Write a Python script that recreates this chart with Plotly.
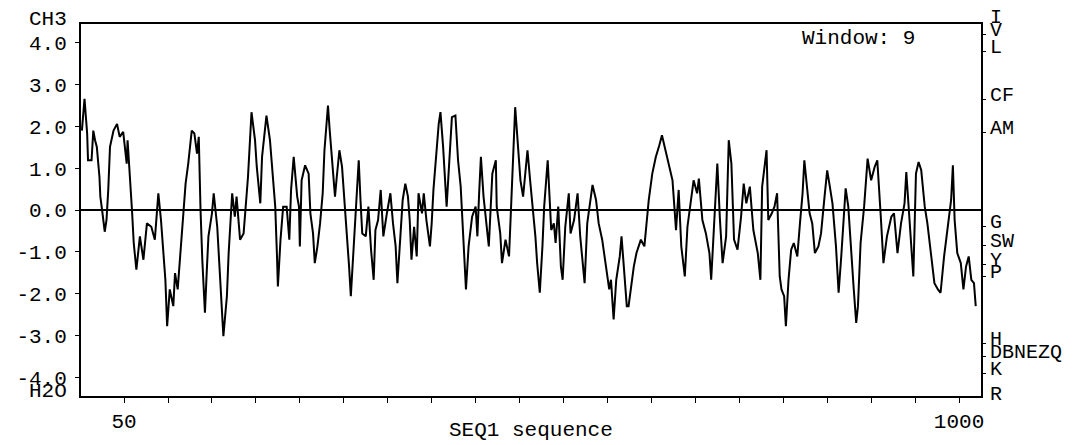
import plotly.graph_objects as go

# ---- data (residue number, hydropathy score) ----
res_a = [2,5,8,9,13,15,17,19,22,23, 25,28,30,32,34,38,42,45,49,53,
         54,57,59,61,62,64,68,72,76,81, 85,89,92,95,97,99,102,106,108,111,
         114,118,120,123,127,130,133,135,136,137, 139,142,144,146,150,152,156,159,163,167,
         169,173,176,178,182,186,188,191,195,199, 201,205,207,209,212,216,218,222,224,225,
         228,231,235,238,240,243,247,249,250,252, 256,260,262,265,267,270,273,276,278]
val_a = [1.90,2.66,1.83,1.19,1.19,1.90,1.67,1.51,0.79,0.32, 0.00,-0.52,-0.24,0.48,1.51,1.90,2.06,1.75,1.87,1.11,
         1.67,0.79,0.00,-0.79,-1.03,-1.43,-0.63,-1.19,-0.32,-0.40, -0.71,0.40,-0.24,-1.19,-1.67,-2.78,-1.90,-2.30,-1.51,-1.90,
         -1.03,-0.08,0.63,1.11,1.90,1.83,1.35,1.75,0.56,0.00, -1.19,-2.46,-1.51,-0.63,-0.08,0.40,-0.40,-1.67,-3.02,-2.06,
         -1.03,0.40,-0.16,0.32,-0.71,-0.56,-0.08,0.79,2.34,1.67, 1.03,0.16,1.27,1.67,2.26,1.67,1.11,0.08,-1.11,-1.83,
         -0.71,0.08,0.08,-0.71,0.48,1.27,0.32,0.08,-0.87,0.71, 1.07,0.87,-0.08,-0.56,-1.27,-0.87,-0.32,0.40,1.43]

res_b = [282,284,287,290,292,295,298,302,304,306, 308,310,312,314,317,319,321,325,328,331,
         334,336,339,342,345,349,353,356,359,361, 364,367,370,373,375,377,380,383,385,389,
         391,394,398,400,402,405,408,410,413,417, 419,423,427,430,433,435,438,439,442,446,
         450,452,454,456,459,465,469,473,474,478, 480,484,488,490,493,495,497,501,504,509,
         512,515,518,520,523,526,528,532,536,539, 541,544,547,549,552,556]
val_b = [2.50,1.90,1.11,0.32,0.79,1.43,1.03,-0.08,-0.71,-1.35, -2.06,-1.35,-0.56,0.16,1.19,0.24,-0.56,-0.63,0.08,-0.95,
         -1.67,-0.48,-0.24,0.48,-0.63,-0.08,0.40,-0.32,-0.87,-1.75, -0.71,0.24,0.63,0.32,-0.24,-1.19,-0.40,-1.11,0.40,-0.08,
         0.40,-0.24,-0.87,-0.32,0.48,1.35,2.06,2.34,1.51,0.08, 0.87,2.22,2.26,1.19,0.56,-0.24,-1.67,-1.90,-0.87,-0.16,
         0.08,-0.63,0.40,1.27,0.32,-0.87,0.87,1.19,0.08,-0.56, -1.27,-0.71,-1.11,0.08,1.43,2.46,1.90,0.71,0.32,1.43,
         0.71,0.08,-0.63,-1.27,-1.98,-0.87,0.08,1.19,-0.48,-0.32, -0.79,0.08,-1.35,-1.67,-0.40,0.40]

res_c = [558,562,566,569,571,574,577,581,583,587, 590,594,598,602,604,607,610,614,616,619,
         622,624,627,630,633,638,642,645,647,651, 655,659,662,666,670,674,678,681,684,688,
         691,695,698,702,704,708,712,716,718,721, 725,728,731,735,738,741,744,748,752,755,
         758,762,766,771,774,776,781,783,787,790, 793,796]
val_c = [-0.56,-0.24,0.40,-0.63,-1.11,-1.75,-0.32,0.32,0.60,0.24, -0.32,-0.71,-1.35,-1.90,-1.67,-2.62,-1.67,-1.11,-0.63,-1.51,
         -2.30,-2.30,-1.75,-1.35,-1.03,-0.71,-0.87,-0.24,0.24,0.87, 1.27,1.55,1.79,1.43,1.03,0.71,-0.48,0.48,-0.87,-1.59,
         -0.40,0.24,0.71,0.40,0.75,-0.24,-0.56,-1.03,-1.67,-0.48, 1.11,-0.24,-1.27,-0.63,1.67,1.11,-0.71,-0.95,-0.16,0.63,
         0.16,0.56,-0.48,-1.03,-1.67,0.56,1.43,-0.24,-0.08,0.08, 0.40,-1.59]

res_d = [798,801,803,806,809,812,816,819,822,824, 827,830,833,836,840,843,847,850,853,856,
         860,863,866,869,871,874,877,880,883,885, 888,892,896,900,904,907,911,914,918,923,
         926,930,934,938,940,942,945,948,951,954, 957,961,964,968,972,976,979,983,987,991,
         993,995,998,1002,1005,1008,1011,1014,1017,1019]
val_d = [-1.90,-2.06,-2.78,-1.67,-0.95,-0.79,-1.11,-0.32,0.40,1.19, 0.48,-0.08,-0.32,-1.03,-0.87,-0.56,0.32,0.95,0.56,0.16,
         -0.87,-1.98,-1.11,-0.16,0.52,0.08,-1.03,-1.83,-2.70,-2.30, -0.79,0.08,1.23,0.71,1.03,1.19,-0.16,-1.27,-0.63,-0.16,
         -0.08,-1.03,-0.32,0.16,0.91,0.24,-0.71,-1.59,0.87,1.15, 0.95,0.08,-0.32,-1.11,-1.75,-1.90,-1.98,-1.11,-0.48,0.24,
         1.07,-0.24,-1.03,-1.27,-1.90,-1.35,-1.11,-1.67,-1.75,-2.30]

# axis tick labels
y_tick_vals = [4, 3, 2, 1, 0, -1, -2, -3, -4]
y_tick_text = ["4.0", "3.0", "2.0", "1.0", "0.0", "-1.0", "-2.0", "-3.0", "-4.0"]
x_tick_vals = [50, 100, 150, 200, 250, 300, 350, 400, 450, 500,
               550, 600, 650, 700, 750, 800, 850, 900, 950, 1000]
x_tick_text = ["50"] + [""] * 18 + ["1000"]

# Kyte-Doolittle residue labels on the right axis
aa_labels = ["I", "V", "L", "CF", "AM", "G", "SW", "Y", "P", "H", "DBNEZQ", "K", "R"]
aa_values = [4.5, 4.2, 3.8, 2.65, 1.85, -0.4, -0.85, -1.3, -1.6, -3.2, -3.5, -3.9, -4.5]

residues = res_a + res_b + res_c + res_d
scores = val_a + val_b + val_c + val_d
assert len(residues) == len(scores)

FONT = "Liberation Mono"
fsize = 21
YR = [-4.45, 4.45]


def to_paper(v):
    return (v - YR[0]) / (YR[1] - YR[0])


fig = go.Figure()
fig.add_trace(go.Scatter(x=residues, y=scores, mode="lines",
                         line=dict(color="black", width=2), hoverinfo="skip",
                         showlegend=False))
fig.add_trace(go.Scatter(x=[None], y=[None], yaxis="y2", mode="lines",
                         showlegend=False, hoverinfo="skip"))

ann = []
ann.append(dict(text="CH3", xref="paper", yref="paper", x=-0.06, y=1.011,
                xanchor="left", yanchor="middle", showarrow=False))
ann.append(dict(text="H2O", xref="paper", yref="paper", x=-0.06, y=0.012,
                xanchor="left", yanchor="middle", showarrow=False))
ann.append(dict(text="Window: 9", xref="paper", yref="paper", x=0.799, y=0.96,
                xanchor="left", yanchor="middle", showarrow=False))
ann.append(dict(text="SEQ1 sequence", xref="paper", yref="paper", x=0.5, y=-0.094,
                xanchor="center", yanchor="middle", showarrow=False))
for lab, v in zip(aa_labels, aa_values):
    ann.append(dict(text=lab, xref="paper", yref="paper", x=1.0, y=to_paper(v),
                    xshift=7, yshift=4, xanchor="left", yanchor="middle",
                    showarrow=False, font=dict(family=FONT, size=20, color="black")))
for a in ann:
    a.setdefault("font", dict(family=FONT, size=fsize, color="black"))

fig.update_layout(
    width=1087, height=445,
    margin=dict(l=81, r=106, t=24, b=49),
    paper_bgcolor="white", plot_bgcolor="white",
    font=dict(family=FONT, size=fsize, color="black"),
    xaxis=dict(range=[1, 1025], tickvals=x_tick_vals, ticktext=x_tick_text,
               ticks="outside", ticklen=5, tickwidth=1, tickcolor="black",
               showline=True, linewidth=2, linecolor="black", mirror=True,
               showgrid=False, zeroline=False, automargin=False,
               tickfont=dict(family=FONT, size=fsize, color="black")),
    yaxis=dict(range=YR, tickvals=y_tick_vals, ticktext=y_tick_text,
               ticks="outside", ticklen=4, tickwidth=1, tickcolor="black",
               ticklabelstandoff=4, automargin=False,
               showline=True, linewidth=2, linecolor="black",
               showgrid=False, zeroline=True, zerolinecolor="black", zerolinewidth=1.5,
               tickfont=dict(family=FONT, size=fsize, color="black")),
    yaxis2=dict(range=YR, overlaying="y", side="right",
                tickvals=[v for v in aa_values if YR[0] < v < YR[1]],
                showticklabels=False, ticks="outside", ticklen=3, tickwidth=1,
                tickcolor="black", showline=True, linewidth=2, linecolor="black",
                showgrid=False, zeroline=False, automargin=False),
    annotations=ann,
)

fig.write_html("out.html", config={"displayModeBar": False},
               post_script="document.body.style.margin='0';document.body.style.overflow='hidden';")
